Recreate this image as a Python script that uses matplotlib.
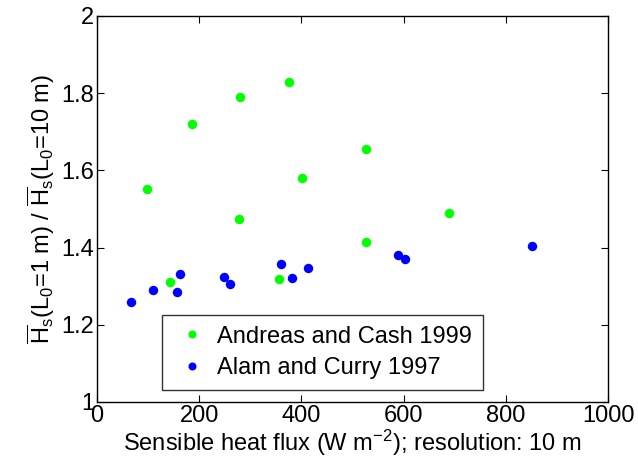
import matplotlib
matplotlib.use("Agg")
import matplotlib.pyplot as plt

plt.rcParams["font.family"] = ["Liberation Sans", "DejaVu Sans"]
plt.rcParams["mathtext.fontset"] = "custom"
plt.rcParams["mathtext.rm"] = "Liberation Sans"
plt.rcParams["mathtext.it"] = "Liberation Sans"
plt.rcParams["mathtext.default"] = "regular"

# Andreas and Cash 1999
ac_flux = [97, 185, 277, 279, 376, 402, 526, 688, 142, 357, 526]
ac_ratio = [1.552, 1.719, 1.474, 1.790, 1.828, 1.580, 1.656, 1.490, 1.310, 1.318, 1.414]

# Alam and Curry 1997
alc_flux = [66, 109, 156, 162, 249, 261, 360, 382, 413, 589, 602, 852]
alc_ratio = [1.258, 1.289, 1.284, 1.331, 1.323, 1.305, 1.357, 1.321, 1.348, 1.380, 1.370, 1.404]

fig = plt.figure(figsize=(6.38, 4.69), dpi=100)
ax = fig.add_axes([0.152, 0.143, 0.801, 0.823])

ax.plot(ac_flux, ac_ratio, "o", color=(0, 1, 0), ms=6.8, mec="none", label="Andreas and Cash 1999")
ax.plot(alc_flux, alc_ratio, "o", color=(0, 0, 1), ms=6.8, mec="none", label="Alam and Curry 1997")

ax.set_xlim(0, 1000)
ax.set_ylim(1, 2)
ax.set_xticks([0, 200, 400, 600, 800, 1000])
ax.set_yticks([1, 1.2, 1.4, 1.6, 1.8, 2])
ax.set_yticklabels(["1", "1.2", "1.4", "1.6", "1.8", "2"])
ax.tick_params(direction="in", top=True, right=True, labelsize=17, length=5, width=0.8, pad=2)
for sp in ax.spines.values():
    sp.set_linewidth(1.0)

ax.set_xlabel("Sensible heat flux (W m$^{-2}$); resolution: 10 m", fontsize=17, labelpad=1)
ax.set_ylabel(r"$\overline{H}_s$(L$_0$=1 m) / $\overline{H}_s$(L$_0$=10 m)", fontsize=17, labelpad=3)

leg = ax.legend(loc="lower left", bbox_to_anchor=(0.127, 0.032), fontsize=17, markerscale=0.85,
                frameon=True, fancybox=False, edgecolor="black", borderpad=0.45,
                handletextpad=0.25, labelspacing=0.4, handlelength=1.65, borderaxespad=0)
leg.get_frame().set_linewidth(1.0)

fig.savefig("out.png", dpi=100)
